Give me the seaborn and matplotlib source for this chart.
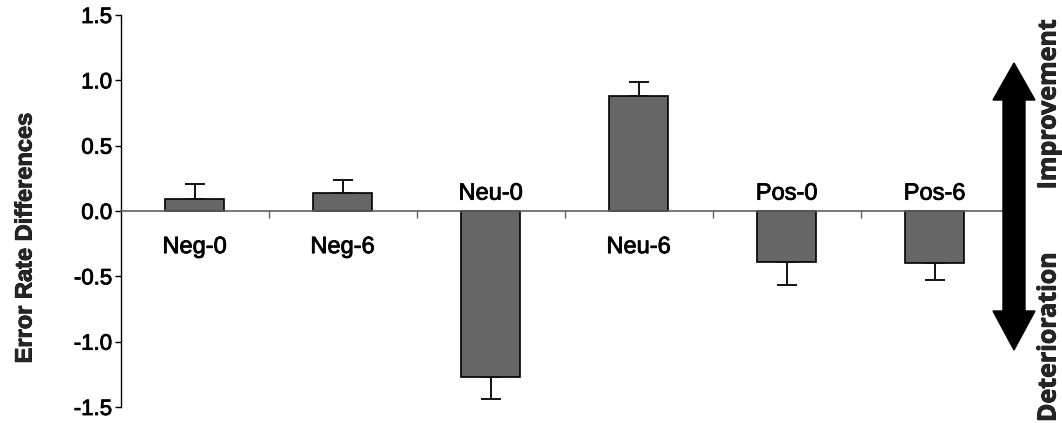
import matplotlib
matplotlib.use("Agg")
import matplotlib.pyplot as plt
import matplotlib.patheffects as pe
import seaborn as sns
import numpy as np
import pandas as pd
from matplotlib.patches import Polygon

categories = ["Neg-0", "Neg-6", "Neu-0", "Neu-6", "Pos-0", "Pos-6"]
values = [0.09, 0.14, -1.27, 0.88, -0.39, -0.40]
errors = [0.12, 0.10, 0.17, 0.11, 0.18, 0.13]
yticks = [-1.5, -1.0, -0.5, 0.0, 0.5, 1.0, 1.5]
ylabel = "Error Rate Differences"
up_label = "Improvement"
down_label = "Deterioration"

sns.set_theme(style="white")
plt.rcParams['font.family'] = ['Liberation Sans', 'DejaVu Sans']

heavy = [pe.withStroke(linewidth=0.6, foreground="black")]

W, H = 1062, 423
fig = plt.figure(figsize=(W / 100, H / 100), dpi=100)
ax = fig.add_axes([120.5 / W, 1 - 407 / H, 888 / W, 392 / H])

df = pd.DataFrame({"cat": categories, "val": values})
sns.barplot(data=df, x="cat", y="val", color="#666666", edgecolor="black",
            linewidth=1.2, width=0.405, saturation=1, errorbar=None, ax=ax)

vals = np.array(values)
errs = np.array(errors)
lower = np.where(vals < 0, errs, 0)
upper = np.where(vals >= 0, errs, 0)
ax.errorbar(np.arange(len(categories)), vals, yerr=[lower, upper], fmt="none",
            ecolor="#111111", elinewidth=1.4, capsize=7.5, capthick=1.4, zorder=1)

ax.set_xlim(-0.5, len(categories) - 0.5)
ax.set_ylim(-1.5, 1.5)
ax.set_yticks(yticks)
ax.set_yticklabels([f"{t:.1f}" for t in yticks], fontsize=16, color="black")
for lbl in ax.get_yticklabels():
    lbl.set_path_effects(heavy)
ax.tick_params(axis="y", direction="out", length=4, width=1, color="black",
               pad=2, left=True)
ax.set_xlabel("")
ax.set_ylabel("")

for s in ["top", "right"]:
    ax.spines[s].set_visible(False)
ax.spines["left"].set_color("black")
ax.spines["left"].set_linewidth(1)
ax.spines["bottom"].set_position(("data", 0))
ax.spines["bottom"].set_color("#606060")
ax.spines["bottom"].set_linewidth(1.2)
ax.set_xticks(np.arange(len(categories) - 1) + 0.5)
ax.set_xticklabels([])
ax.tick_params(axis="x", direction="out", length=5, width=1, color="#606060",
               bottom=True)

for i, (c, v) in enumerate(zip(categories, values)):
    off = -26 if v >= 0 else 12.5
    ax.annotate(c, (i, 0), xytext=(0, off), textcoords="offset points",
                ha="center", va="center", fontsize=17, color="black",
                path_effects=heavy)

fig.text(25 / W, 1 - 238 / H, ylabel, rotation=90, ha="center", va="center",
         fontsize=17, fontweight="bold", path_effects=heavy)

# double-headed arrow
cx, sw, hw = 1014, 11, 21
top, tb, bb, bot = 63, 100, 311, 350
pts = [(cx, top), (cx + hw, tb), (cx + sw, tb), (cx + sw, bb), (cx + hw, bb),
       (cx, bot), (cx - hw, bb), (cx - sw, bb), (cx - sw, tb), (cx - hw, tb)]
pts = [(x / W, 1 - y / H) for x, y in pts]
fig.add_artist(Polygon(pts, closed=True, facecolor="black", edgecolor="black",
                       transform=fig.transFigure))

fig.text(1049 / W, 1 - 104 / H, up_label, rotation=90, ha="center", va="center",
         fontsize=18, fontweight="bold", family=["Open Sans", "DejaVu Sans"],
         path_effects=heavy)
fig.text(1049 / W, 1 - 337 / H, down_label, rotation=90, ha="center", va="center",
         fontsize=18, fontweight="bold", family=["Open Sans", "DejaVu Sans"],
         path_effects=heavy)

fig.savefig("out.png", dpi=100)
